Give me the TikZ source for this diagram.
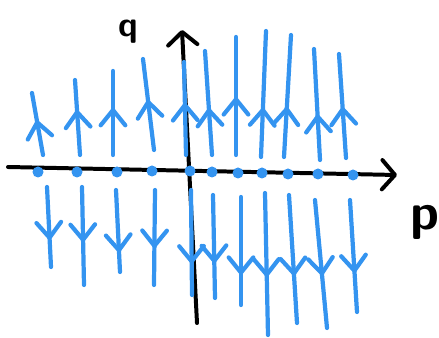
\documentclass[tikz,border=0pt]{standalone}
\usetikzlibrary{arrows.meta,decorations.markings}
\definecolor{flowblue}{RGB}{52,148,240}

\begin{document}
\begin{tikzpicture}[x=0.03cm, y=-0.03cm, every node/.style={font=\sffamily}]
\tikzset{
  axis/.style={line width=3.4pt, line cap=round, -{Straight Barb[length=11pt, width=25pt, round]}},
  flowline/.style={draw=flowblue, line width=3.6pt, line cap=round,
    postaction={decorate, decoration={markings,
      mark=at position #1 with {\arrow[flowblue]{Straight Barb[length=13pt, width=21pt, round]}}}}},
  fix/.style={circle, fill=flowblue, inner sep=0pt, minimum size=0.33cm},
  lab/.style={inner sep=1pt}
}
\useasboundingbox (0,0) rectangle (439,338);

% --- axes ---
\coordinate (pl) at (8,167);
\coordinate (pr) at (397,175);
\coordinate (qb) at (197,323);
\coordinate (qt) at (182,30);
\draw[axis] (pl) -- (pr);
\draw[axis] (qb) -- (qt);
\node[lab, font=\sffamily\bfseries\fontsize{30}{30}\selectfont] (qlab) at (128,32) {q};
\node[lab, font=\sffamily\bfseries\fontsize{44}{44}\selectfont] (plab) at (425,222) {p};

% --- flow above the p axis (upwards) ---
\draw[flowline=0.56] (43,155) -- (32,93);
\draw[flowline=0.60] (80,155) -- (75,80);
\draw[flowline=0.56] (113,155) -- (113,71);
\draw[flowline=0.55] (154,150) -- (143,59);
\draw[flowline=0.56] (186,155) -- (184,62);
\draw[flowline=0.45] (212,155) -- (205,51);
\draw[flowline=0.49] (236,155) -- (236,37);
\draw[flowline=0.39] (261,157) -- (266,31);
\draw[flowline=0.41] (284,157) -- (291,35);
\draw[flowline=0.41] (320,160) -- (314,49);
\draw[flowline=0.49] (346,158) -- (339,54);

% --- flow below the p axis (downwards) ---
\draw[flowline=0.66] (47,187) -- (51,267);
\draw[flowline=0.56] (82,187) -- (84,285);
\draw[flowline=0.76] (116,190) -- (120,272);
\draw[flowline=0.61] (155,190) -- (154,285);
\draw[flowline=0.70] (191,190) -- (192,295);
\draw[flowline=0.66] (213,195) -- (215,298);
\draw[flowline=0.72] (241,197) -- (241,305);
\draw[flowline=0.59] (265,193) -- (268,335);
\draw[flowline=0.63] (289,195) -- (297,323);
\draw[flowline=0.59] (315,200) -- (327,328);
\draw[flowline=0.65] (350,200) -- (357,312);

% --- fixed points on the p axis ---
\node[fix] (d1) at (38,172) {};
\node[fix] (d2) at (77,172) {};
\node[fix] (d3) at (117,172) {};
\node[fix] (d4) at (152,171) {};
\node[fix] (d5) at (190,171) {};
\node[fix] (d6) at (212,172) {};
\node[fix] (d7) at (238,173) {};
\node[fix] (d8) at (262,173) {};
\node[fix] (d9) at (288,174) {};
\node[fix] (d10) at (318,174) {};
\node[fix] (d11) at (353,175) {};
\end{tikzpicture}
\end{document}
